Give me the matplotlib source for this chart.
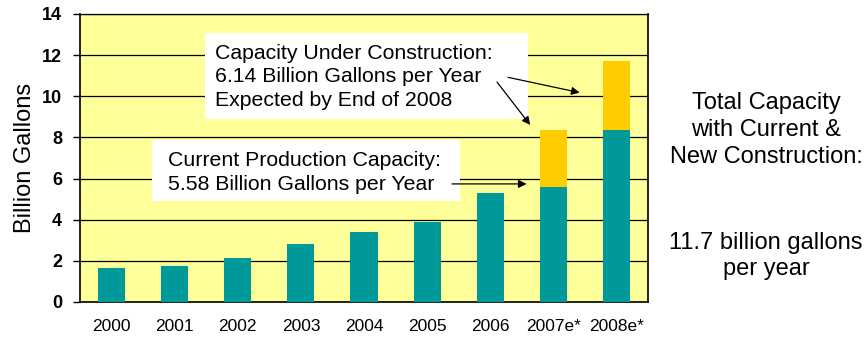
import matplotlib
matplotlib.use("Agg")
import matplotlib.pyplot as plt
from matplotlib.patches import Rectangle
import numpy as np

plt.rcParams['font.family'] = ['Liberation Sans', 'DejaVu Sans']

years = ["2000", "2001", "2002", "2003", "2004", "2005", "2006", "2007e*", "2008e*"]
current = [1.63, 1.77, 2.14, 2.81, 3.41, 3.90, 5.30, 5.58, 8.36]
construction = [0, 0, 0, 0, 0, 0, 0, 2.78, 3.36]

teal = "#009999"
gold = "#FFCC00"
bg = "#FFFF99"

W, H = 868, 342
fig = plt.figure(figsize=(W/100, H/100), dpi=100)
ax = fig.add_axes([80/W, 1 - 302/H, 568/W, 288/H])
ax.set_facecolor(bg)

x = np.arange(len(years))
ax.bar(x, current, width=0.43, color=teal, zorder=3)
ax.bar(x, construction, width=0.43, bottom=current, color=gold, zorder=3)

ax.set_xlim(-0.5, len(years) - 0.5)
ax.set_ylim(0, 14)
ax.set_yticks(range(0, 15, 2))
ax.yaxis.grid(True, color="black", linewidth=0.9, zorder=1)
ax.set_axisbelow(True)
ax.set_xticks(x)
ax.set_xticklabels(years, fontsize=12.5)
ax.tick_params(axis='x', length=0, pad=12)
ax.tick_params(axis='y', length=5, width=1, labelsize=13, pad=8)
for lbl in ax.get_yticklabels():
    lbl.set_fontweight('bold')
for s in ax.spines.values():
    s.set_color("black")
    s.set_linewidth(1.2)
ax.spines['top'].set_linewidth(0.9)

ax.set_ylabel("Billion Gallons", fontsize=17, labelpad=4)


def px_rect(x0, y0, x1, y1):
    return Rectangle((x0/W, 1 - y1/H), (x1 - x0)/W, (y1 - y0)/H,
                     transform=fig.transFigure, facecolor='white',
                     edgecolor='none', zorder=5)


# annotation boxes
ax.add_artist(px_rect(205, 33, 528, 119))
ax.add_artist(px_rect(152, 140, 460, 201))
ax.text(215/W, 1 - 77/H, "Capacity Under Construction:\n6.14 Billion Gallons per Year\nExpected by End of 2008",
        transform=fig.transFigure, fontsize=15.3, ha='left', va='center',
        linespacing=1.3, zorder=6)
ax.text(168/W, 1 - 172.5/H, "Current Production Capacity:\n5.58 Billion Gallons per Year",
        transform=fig.transFigure, fontsize=15.3, ha='left', va='center',
        linespacing=1.3, zorder=6)

arrow = dict(arrowstyle='-|>', color='black', lw=0.9, mutation_scale=12)
ax.annotate("", xy=(6.66, 8.5), xytext=(6.08, 10.8), arrowprops=arrow, zorder=7)
ax.annotate("", xy=(7.46, 10.15), xytext=(6.24, 10.95), arrowprops=arrow, zorder=7)
ax.annotate("", xy=(6.62, 5.74), xytext=(5.35, 5.74), arrowprops=arrow, zorder=7)

fig.text(766/W, 1 - 130/H, "Total Capacity\nwith Current &\nNew Construction:",
         fontsize=17, ha='center', va='center', linespacing=1.3)
fig.text(766/W, 1 - 256/H, "11.7 billion gallons\nper year",
         fontsize=17, ha='center', va='center', linespacing=1.27)

fig.savefig("out.png", dpi=100, facecolor='white')
